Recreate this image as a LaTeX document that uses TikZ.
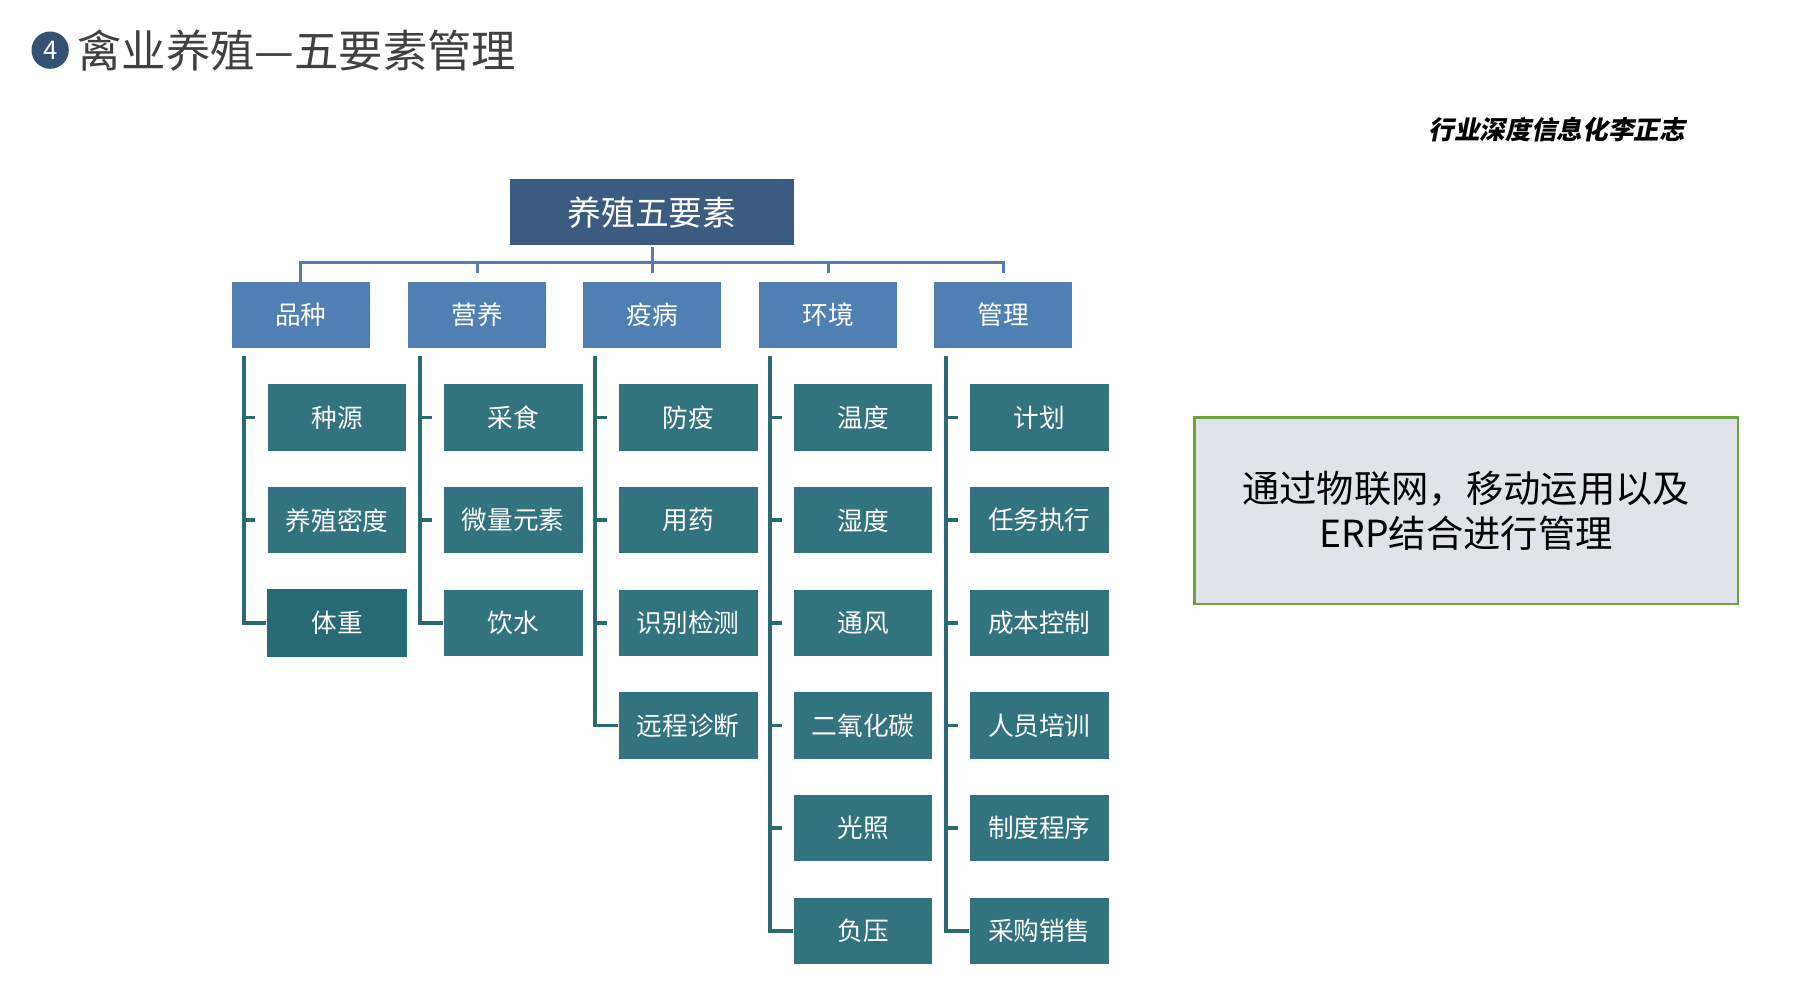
\documentclass[tikz,border=0pt]{standalone}
\usepackage{fontspec}
\setmainfont{Noto Sans CJK SC}
\begin{document}
\begin{tikzpicture}[x=0.5pt,y=-0.5pt,
  root/.style={fill=rootc,draw=white,line width=0.6pt,minimum width=122pt,minimum height=29pt,inner sep=0pt,text=white,font=\fontsize{14.5}{16}\selectfont},
  cat/.style={fill=catc,draw=white,line width=0.6pt,minimum width=60pt,minimum height=29pt,inner sep=0pt,text=white,font=\fontsize{11}{13}\selectfont},
  leaf/.style={fill=leafc,draw=white,line width=0.6pt,minimum width=60pt,minimum height=29pt,inner sep=0pt,text=white,font=\fontsize{11}{13}\selectfont},
  bus/.style={draw=catc,line width=1.3pt},
  tree/.style={draw=linec,line width=1.5pt}]
\definecolor{rootc}{HTML}{3B5B80}
\definecolor{catc}{HTML}{4F7FB3}
\definecolor{leafc}{HTML}{31737F}
\definecolor{leafd}{HTML}{256A75}
\definecolor{linec}{HTML}{2B6A75}
\definecolor{titc}{HTML}{404040}
\useasboundingbox (0,0) rectangle (1550,844);
% title
\node[circle,fill=rootc!90!black,minimum size=16pt,inner sep=0pt,text=white,font=\fontsize{11}{12}\selectfont] (num) at (43,43) {4};
\node[anchor=west,text=titc,font=\fontsize{19}{22}\selectfont,inner sep=0pt] (title) at (66,43) {禽业养殖—五要素管理};
\node[anchor=east,font=\fontsize{11}{13}\selectfont\bfseries\itshape,inner sep=0pt] (author) at (1445,111) {\addfontfeature{FakeSlant=0.2}行业深度信息化李正志};
% root
\node[root] (r) at (559,182) {养殖五要素};
% categories
\foreach \n/\x/\t in {c1/258/品种,c2/409/营养,c3/559/疫病,c4/710/环境,c5/860/管理}{
  \node[cat] (\n) at (\x,270) {\t};
}
\coordinate (busL) at (258,225);
\coordinate (busR) at (860,225);
\coordinate (busM) at (559,225);
\draw[bus] (r.south) -- (busM);
\draw[bus] (c1.north) ++(0,-3pt) |- (busR) -- ([yshift=3pt]c5.north);
\foreach \n in {c2,c3,c4}{ \draw[bus] ([yshift=3pt]\n.north) -- (\n.north |- busM); }
% leaves
\def\rows{358,446,534,622,711,799}
\foreach \cat/\x/\list in {c1/289/{种源,养殖密度,体重},c2/440/{采食,微量元素,饮水},c3/590/{防疫,用药,识别检测,远程诊断},c4/740/{温度,湿度,通风,二氧化碳,光照,负压},c5/891/{计划,任务执行,成本控制,人员培训,制度程序,采购销售}}{
  \foreach \t [count=\i] in \list {
    \pgfmathsetmacro\yy{270+88*\i}
    \node[leaf] (\cat l\i) at (\x,\yy) {\t};
    \coordinate (\cat t\i) at (\x-80,\yy);
    \draw[tree] (\cat t\i) -- ++(10,0);
    \xdef\lastcount{\i}
  }
  \coordinate (\cat top) at (\x-80,305);
  \draw[tree] (\cat top) -- (\cat t\lastcount) -- (\cat l\lastcount.west);
}
\fill[leafd] ([xshift=0.3pt,yshift=-0.3pt]c1l3.north west) rectangle ([xshift=-0.3pt,yshift=0.3pt]c1l3.south east);
\node[text=white,font=\fontsize{11}{13}\selectfont] at (c1l3) {体重};
% note
\node[draw={rgb,255:red,112;green,160;blue,64},line width=1pt,fill={rgb,255:red,223;green,227;blue,234},minimum width=233pt,minimum height=80pt,align=center,font=\fontsize{16}{19}\selectfont] (note) at (1257,438) {通过物联网，移动运用以及\\ERP结合进行管理};
\end{tikzpicture}
\end{document}
